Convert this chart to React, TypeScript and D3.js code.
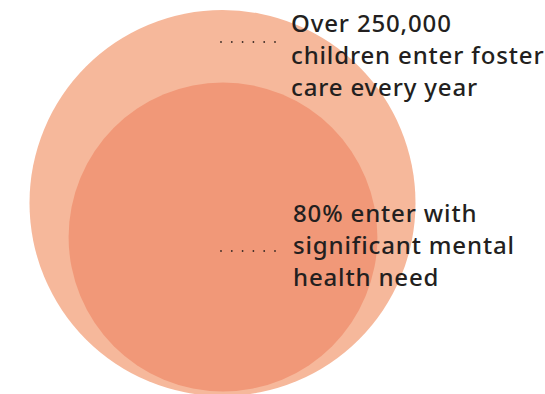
import React from "react";
import * as d3 from "d3";

const categories = ["Children entering foster care", "Enter with significant mental health need"];
const values = [250000, 200000];
const labelLines = [
  ["Over 250,000", "children enter foster", "care every year"],
  ["80% enter with", "significant mental", "health need"],
];
const colors = ["#F6B89B", "#F19878"];

const W = 545;
const H = 394;

export default function App() {
  const r = d3.scaleLinear().domain([0, 250000]).range([0, 193]);
  const cx = 222.5;
  const centersY = [203, 237];
  const textX = [291, 293];
  const baseY = [32, 222];
  const dotY = [42, 251];
  const dotX = d3.range(6).map((i) => 221 + i * 10.8);

  return (
    <svg
      width={W}
      height={H}
      style={{ position: "absolute", left: 0, top: 0, display: "block" }}
    >
      <rect width={W} height={H} fill="#ffffff" />
      {values.map((v, i) => (
        <circle key={categories[i]} cx={cx + (i === 1 ? 0.5 : 0)} cy={centersY[i]} r={r(v)} fill={colors[i]} />
      ))}
      {labelLines.map((lines, i) => (
        <g key={"l" + i}>
          {dotX.map((x, j) => (
            <circle key={j} cx={x} cy={dotY[i]} r={0.9} fill="#3a2a25" />
          ))}
          <text
            x={textX[i]}
            y={baseY[i]}
            fontFamily="'Noto Sans', sans-serif"
            fontSize={24}
            fontWeight={500}
            fill="#231F20"
            letterSpacing={0.85}
          >
            {lines.map((ln, k) => (
              <tspan key={k} x={textX[i]} dy={k === 0 ? 0 : 32}>
                {ln}
              </tspan>
            ))}
          </text>
        </g>
      ))}
    </svg>
  );
}
